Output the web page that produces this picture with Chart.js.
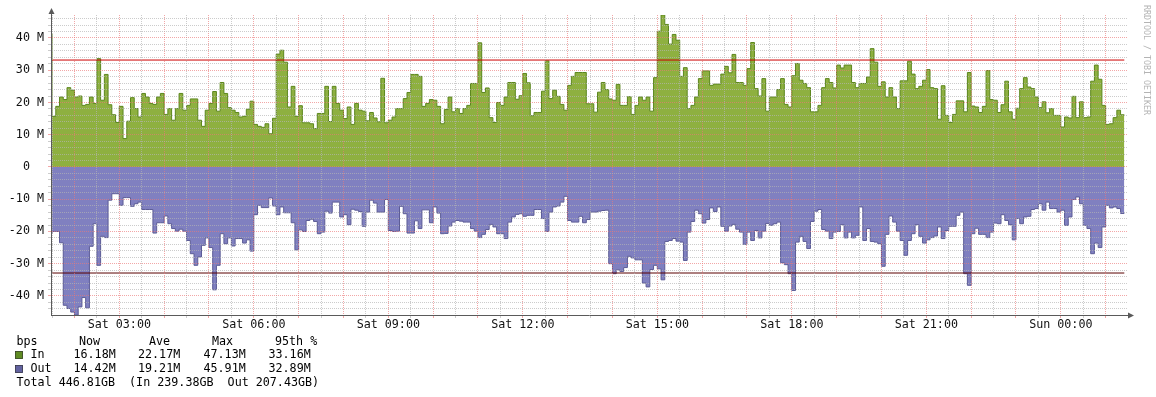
<!DOCTYPE html>
<html><head><meta charset="utf-8">
<script src="https://cdn.jsdelivr.net/npm/chart.js@4.4.1/dist/chart.umd.min.js"></script>
<style>html,body{margin:0;padding:0;background:#fff;}#wrap{width:1156px;height:397px;position:relative;}</style>
</head><body><div id="wrap"><canvas id="c" width="1156" height="397"></canvas></div>
<script>
// Traffic in Mbit/s, one value per 5-minute sample (Sat 01:25 .. Sun 01:25)
const inValues = [
41.2,15.7,18.8,21.7,20.9,24.6,23.8,21.7,22.0,19.1,19.4,21.7,19.7,33.6,20.7,28.7,19.3,16.2,13.8,18.8,
8.8,14.2,21.5,18.1,15.5,22.8,21.7,19.7,19.4,21.7,22.8,16.3,18.1,14.5,18.1,22.8,17.6,19.1,21.1,21.1,
14.5,12.6,17.6,19.7,23.4,17.3,26.2,22.8,18.4,17.6,16.9,15.5,15.7,17.9,20.4,13.2,12.6,12.3,13.4,10.3,
15.1,35.0,36.2,32.5,18.6,25.0,15.7,19.0,13.7,13.7,13.4,11.9,16.6,16.6,25.0,14.1,25.0,19.7,17.6,15.0,
18.6,13.2,19.7,17.6,17.3,14.3,16.9,15.2,14.0,27.5,13.7,14.5,15.5,18.1,18.1,21.2,23.1,28.7,28.7,28.1,
18.8,19.7,20.9,20.7,18.8,13.4,17.8,21.7,17.1,18.1,16.6,18.1,19.1,25.9,25.9,38.5,23.1,24.5,15.3,13.8,
20.0,19.1,21.7,26.2,26.2,21.0,22.1,29.0,26.1,15.9,16.9,16.9,23.5,32.9,21.2,23.8,21.9,19.4,17.6,25.3,
28.1,29.3,29.3,29.3,19.6,19.6,17.0,23.2,26.2,24.0,21.1,20.7,25.6,19.1,19.1,21.8,16.3,19.1,21.7,20.7,
21.7,17.3,27.7,42.1,47.13,44.2,38.1,41.1,39.3,28.1,30.8,18.1,19.1,21.7,27.4,29.8,29.8,25.3,25.7,25.7,
28.8,31.2,29.2,34.9,26.2,26.2,25.3,30.5,38.6,24.3,22.0,27.4,17.3,21.7,21.7,24.0,27.4,19.4,18.6,28.3,
32.1,26.9,25.9,24.6,17.1,17.1,19.1,24.6,27.4,26.2,24.5,31.6,30.7,31.6,31.6,26.2,24.6,25.9,25.9,27.9,
36.7,32.5,25.0,26.4,21.7,24.6,21.7,18.1,26.7,26.7,32.8,28.8,24.3,25.0,26.9,30.2,24.6,24.3,14.8,25.2,
16.0,13.8,16.3,20.5,20.5,17.1,29.3,18.9,18.6,16.9,18.8,29.9,20.9,20.7,16.9,19.3,26.6,17.1,14.8,18.2,
24.3,27.7,24.8,24.3,21.7,18.4,20.2,16.8,18.1,16.0,16.0,12.4,15.5,15.2,21.9,15.3,20.2,15.3,15.5,26.6,
31.6,27.2,19.1,13.2,13.4,15.3,17.6,16.18
];
const outValues = [
20.7,20.0,20.0,23.5,42.9,43.9,45.0,45.91,43.4,40.5,43.7,24.6,17.6,30.5,21.5,21.9,10.3,8.3,8.3,11.9,
9.5,9.5,12.2,11.4,10.9,13.2,13.2,13.2,20.5,17.3,17.3,15.2,17.6,19.1,19.9,19.3,19.9,22.8,26.9,30.5,
27.9,24.3,22.0,25.0,38.1,30.5,20.7,23.8,22.0,24.5,22.2,22.2,23.6,22.6,26.1,14.8,11.9,12.6,12.6,9.6,
12.1,14.8,12.4,14.2,14.2,17.3,25.7,19.5,20.0,16.6,16.2,16.9,20.7,20.2,13.7,14.3,10.9,10.9,15.5,14.8,
17.9,13.1,13.4,13.8,18.4,14.0,10.3,11.2,14.0,14.0,10.1,19.7,20.0,19.9,12.2,14.5,20.5,20.5,16.7,19.1,
13.3,13.3,17.3,12.4,14.3,20.7,20.6,18.3,17.1,16.6,16.8,17.1,17.1,19.1,19.9,21.9,20.9,19.4,17.8,18.6,
20.7,20.7,22.2,17.1,15.5,14.7,14.5,15.3,15.0,15.0,13.2,13.2,16.0,20.0,14.0,12.4,12.1,10.9,9.1,16.6,
17.1,17.1,15.3,17.3,16.3,14.0,14.0,13.7,13.5,13.4,30.0,33.1,31.9,32.4,31.2,27.7,28.2,28.8,28.8,36.0,
37.2,31.8,30.5,31.6,35.0,23.1,22.8,22.2,23.0,23.3,29.0,20.2,16.9,13.4,14.5,17.4,16.3,12.7,13.8,12.4,
18.4,19.9,18.3,17.8,19.3,20.2,24.0,20.2,22.8,19.7,22.0,19.9,17.5,18.1,17.6,17.1,29.7,30.3,33.1,38.3,
23.3,21.5,23.1,25.3,16.9,13.7,13.2,19.4,19.9,22.2,20.2,20.0,17.9,22.0,20.2,22.0,21.2,12.4,22.8,19.1,
23.1,23.3,23.8,30.8,20.9,15.2,17.1,19.9,22.8,27.4,22.8,20.7,17.9,21.5,23.6,22.6,21.9,21.4,18.6,22.2,
19.7,18.4,18.4,15.0,14.0,33.1,36.7,20.7,19.0,20.9,20.9,21.9,20.2,17.4,17.6,14.8,16.6,17.9,22.6,16.0,
17.6,15.5,15.3,13.2,12.9,11.4,13.4,10.9,12.9,12.9,14.0,13.4,18.1,15.5,10.1,9.3,11.4,18.1,19.1,26.9,
23.6,25.0,18.6,11.9,12.7,12.4,12.9,14.42
];
const firstSampleStart = 85;   // minutes after Sat 00:00
const sampleMinutes = 5;
const viewStart = 88.6, viewEnd = 1528.6;  // minutes after Sat 00:00
const pct95In = 33.16, pct95Out = 32.89;
const yMin = -45.91, yMax = 47.13;
const legendHeader = ['bps', 'Now', 'Ave', 'Max', '95th %'];
const legendIn = ['In', '16.18M', '22.17M', '47.13M', '33.16M'];
const legendOut = ['Out', '14.42M', '19.21M', '45.91M', '32.89M'];
const legendTotal = 'Total 446.81GB  (In 239.38GB  Out 207.43GB)';
const watermark = 'RRDTOOL / TOBI OETIKER';

const FONT = '"DejaVu Sans Mono", monospace';
const GRID_MINOR = 'rgba(180,180,180,0.68)';
const GRID_MAJOR = 'rgba(235,120,120,0.65)';
const AXIS = '#5a5a5a';

function series(vals, sign) {
  const pts = vals.map((v, i) => ({x: firstSampleStart + i * sampleMinutes, y: sign * v}));
  pts.push({x: firstSampleStart + vals.length * sampleMinutes, y: sign * vals[vals.length - 1]});
  return pts;
}
const dataEnd = firstSampleStart + inValues.length * sampleMinutes;

const xGrid = []; for (let m = 90; m <= 1500; m += 30) xGrid.push(m);
const yGrid = []; for (let v = -44; v <= 46; v += 2) yGrid.push(v);

function timeLabel(m) {
  if (m % 180 !== 0) return '';
  const h = Math.floor(m / 60);
  const day = h >= 24 ? 'Sun' : 'Sat';
  const hh = String(h % 24).padStart(2, '0');
  return day + ' ' + hh + ':00';
}

const extras = {
  id: 'extras',
  afterDraw(chart) {
    const {ctx, chartArea: a} = chart;
    ctx.save();
    // axis arrows
    ctx.strokeStyle = AXIS; ctx.fillStyle = AXIS; ctx.lineWidth = 1;
    ctx.beginPath(); ctx.moveTo(a.left + 0.5, a.top); ctx.lineTo(a.left + 0.5, a.top - 4); ctx.stroke();
    ctx.beginPath(); ctx.moveTo(a.left - 2.5, a.top - 1); ctx.lineTo(a.left + 3.5, a.top - 1); ctx.lineTo(a.left + 0.5, a.top - 7); ctx.closePath(); ctx.fill();
    ctx.beginPath(); ctx.moveTo(a.right, a.bottom + 0.5); ctx.lineTo(a.right + 2, a.bottom + 0.5); ctx.stroke();
    ctx.beginPath(); ctx.moveTo(a.right + 1, a.bottom - 2.5); ctx.lineTo(a.right + 1, a.bottom + 3.5); ctx.lineTo(a.right + 7, a.bottom + 0.5); ctx.closePath(); ctx.fill();
    // legend
    ctx.fillStyle = '#000';
    ctx.font = '11.7px ' + FONT;
    ctx.textBaseline = 'middle';
    const cols = [16.5, 79, 149, 212, 275];
    const vcols = [30.5, 73.5, 138, 203.5, 268.5];
    legendHeader.forEach((t, i) => ctx.fillText(t, cols[i], 341.5));
    legendIn.forEach((t, i) => ctx.fillText(t, vcols[i], 355));
    legendOut.forEach((t, i) => ctx.fillText(t, vcols[i], 369));
    ctx.fillText(legendTotal, 16.5, 382.5);
    ctx.fillStyle = '#5f8b23'; ctx.fillRect(15, 351, 8, 8);
    ctx.fillStyle = '#62629f'; ctx.fillRect(15, 365, 8, 8);
    ctx.strokeStyle = '#333'; ctx.lineWidth = 0.6;
    ctx.strokeRect(15.5, 351.5, 7, 7); ctx.strokeRect(15.5, 365.5, 7, 7);
    // watermark
    ctx.fillStyle = '#b4b4b4';
    ctx.font = '8.3px ' + FONT;
    ctx.translate(1146, 5);
    ctx.rotate(Math.PI / 2);
    ctx.textBaseline = 'middle';
    ctx.fillText(watermark, 0, 0);
    ctx.restore();
  }
};

new Chart(document.getElementById('c'), {
  type: 'line',
  data: {
    datasets: [
      {label: 'In', data: series(inValues, 1), stepped: 'before', fill: 'origin',
       backgroundColor: 'rgb(142,176,64)', borderColor: 'rgb(92,135,30)', borderWidth: 1, pointRadius: 0, order: 3},
      {label: 'Out', data: series(outValues, -1), stepped: 'before', fill: 'origin',
       backgroundColor: 'rgb(128,128,192)', borderColor: 'rgb(92,92,150)', borderWidth: 1, pointRadius: 0, order: 2},
      {label: '95th In', data: [{x: firstSampleStart, y: pct95In}, {x: dataEnd, y: pct95In}],
       borderColor: '#cc0000', borderWidth: 1, pointRadius: 0, fill: false, order: 1},
      {label: '95th Out', data: [{x: firstSampleStart, y: -pct95Out}, {x: dataEnd, y: -pct95Out}],
       borderColor: '#5a0000', borderWidth: 1, pointRadius: 0, fill: false, order: 0}
    ]
  },
  options: {
    responsive: false, animation: false, devicePixelRatio: 1,
    layout: {padding: {left: 0, right: 29, top: 15, bottom: 62}},
    plugins: {legend: {display: false}, tooltip: {enabled: false}},
    elements: {line: {tension: 0}},
    scales: {
      x: {
        type: 'linear', min: viewStart, max: viewEnd,
        afterBuildTicks: s => { s.ticks = xGrid.map(v => ({value: v})); },
        afterFit: s => { s.height = 20; },
        ticks: {autoSkip: false, maxRotation: 0, padding: 0, color: '#111',
                font: {family: FONT, size: 11.7}, callback: v => timeLabel(v)},
        grid: {z: 1, drawTicks: true, tickLength: 3,
               color: c => (c.tick && c.tick.value % 60 === 0) ? GRID_MAJOR : GRID_MINOR,
               tickColor: c => (c.tick && c.tick.value % 60 === 0) ? GRID_MAJOR : GRID_MINOR},
        border: {color: AXIS, width: 1, dash: [1, 1], z: 2}
      },
      y: {
        min: yMin, max: yMax,
        afterBuildTicks: s => { s.ticks = yGrid.map(v => ({value: v})); },
        afterFit: s => { s.width = 51; },
        ticks: {autoSkip: false, padding: 4, color: '#111', font: {family: FONT, size: 11.7},
                callback: v => v === 0 ? '0  ' : (v % 10 === 0 ? v + ' M' : '')},
        grid: {z: 1, drawTicks: true, tickLength: 3,
               color: c => (c.tick && c.tick.value % 10 === 0) ? GRID_MAJOR : GRID_MINOR,
               tickColor: c => (c.tick && c.tick.value % 10 === 0) ? GRID_MAJOR : GRID_MINOR},
        border: {color: AXIS, width: 1, dash: [1, 1], z: 2}
      }
    }
  },
  plugins: [extras]
});
</script></body></html>
